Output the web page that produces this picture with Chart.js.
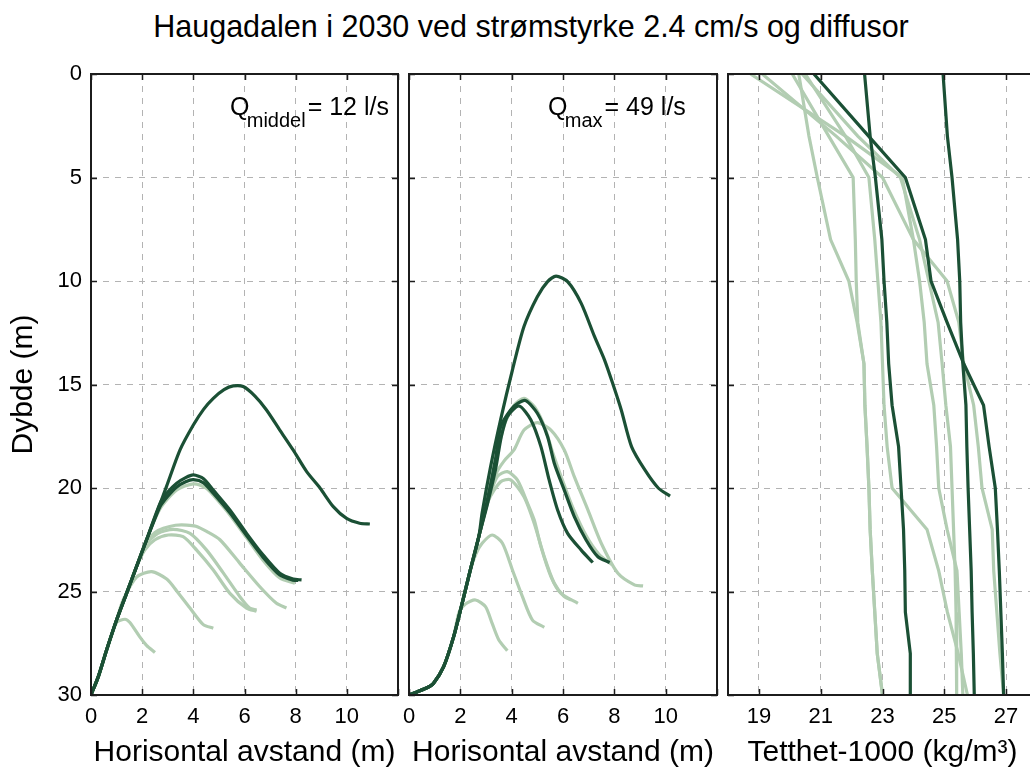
<!DOCTYPE html>
<html>
<head>
<meta charset="utf-8">
<script src="https://cdn.jsdelivr.net/npm/chart.js@4.4.1/dist/chart.umd.min.js"></script>
<style>
  html, body { margin: 0; padding: 0; background: #fff; }
  #page { position: relative; width: 1030px; height: 778px; overflow: hidden; }
  #page canvas { position: absolute; left: 0; top: 0; }
  #title {
    position: absolute; left: 131px; top: 11px; width: 800px;
    font-family: 'Liberation Sans', Arial, sans-serif; font-size: 30.5px; line-height: 30px;
    text-align: center; color: #000; white-space: nowrap;
  }
</style>
</head>
<body>
<div id="page">
  <div id="title">Haugadalen i 2030 ved strømstyrke 2.4 cm/s og diffusor</div>
  <canvas id="c-middel" width="1060" height="778"></canvas>
  <canvas id="c-max" width="1060" height="778"></canvas>
  <canvas id="c-dens" width="1060" height="778"></canvas>
</div>

<script>
// ══════════════════════════════════════
//  Haugadalen 2030 — innlagring av avløp
// ══════════════════════════════════════

// ── Data: Q middel (12 l/s) — [horisontal avstand (m), dybde (m)] ──
const middelDark1 = [[0,30],[0.29,29.1],[0.61,27.83],[1.0,26.38],[1.39,25.09],[1.78,23.8],[2.17,22.51],[2.57,21.2],[2.96,19.9],[3.48,18.16],[4.0,16.96],[4.4,16.2],[4.78,15.67],[5.2,15.25],[5.56,15.07],[5.95,15.1],[6.4,15.55],[6.86,16.23],[7.38,17.2],[7.9,18.16],[8.43,19.21],[8.95,20.0],[9.47,20.9],[9.99,21.47],[10.5,21.7],[10.9,21.74]];
const middelDark2 = [[0,30],[0.29,29.1],[0.61,27.83],[1.0,26.38],[1.39,25.09],[1.78,23.8],[2.17,22.51],[2.7,20.74],[3.0,20.2],[3.35,19.77],[3.7,19.5],[4.0,19.37],[4.4,19.55],[4.78,20.1],[5.43,21.06],[6.08,22.19],[6.73,23.24],[7.38,24.12],[7.9,24.4],[8.23,24.44]];
const middelDark3 = [[0,30],[0.29,29.1],[0.61,27.83],[1.0,26.38],[1.39,25.09],[1.78,23.8],[2.17,22.51],[2.7,20.9],[3.0,20.4],[3.35,19.95],[3.7,19.7],[4.0,19.6],[4.4,19.75],[4.78,20.25],[5.43,21.2],[6.08,22.3],[6.73,23.35],[7.38,24.2],[7.9,24.45],[8.1,24.47]];
const middelLight1 = [[0,30],[0.29,29.1],[0.61,27.83],[1.0,26.38],[1.39,25.09],[1.78,23.8],[2.17,22.51],[2.7,21.0],[3.35,20.1],[4.0,19.8],[4.5,20.0],[4.78,20.35],[5.43,21.3],[6.08,22.4],[6.73,23.5],[7.38,24.35],[7.97,24.6]];
const middelLight2 = [[0,30],[0.29,29.1],[0.61,27.83],[1.0,26.38],[1.39,25.09],[1.78,23.8],[2.17,22.6],[2.5,22.15],[2.83,21.95],[3.3,21.8],[3.74,21.79],[4.1,21.85],[4.52,22.1],[5.04,22.5],[5.82,23.64],[6.6,24.77],[7.25,25.57],[7.64,25.8]];
const middelLight3 = [[0,30],[0.29,29.1],[0.61,27.83],[1.0,26.38],[1.39,25.09],[1.78,23.8],[2.1,22.8],[2.6,22.2],[3.21,22.0],[3.87,22.19],[4.52,23.0],[5.17,24.1],[5.82,25.25],[6.2,25.8],[6.47,25.9]];
const middelLight4 = [[0,30],[0.29,29.1],[0.61,27.83],[1.0,26.38],[1.39,25.09],[1.78,23.8],[2.1,23.0],[2.5,22.5],[3.02,22.27],[3.6,22.35],[4.13,23.0],[4.78,23.96],[5.43,25.09],[6.08,25.8],[6.47,25.95]];
const middelLight5 = [[0,30],[0.29,29.1],[0.61,27.83],[1.0,26.38],[1.26,25.4],[1.78,24.3],[2.37,24.04],[2.96,24.4],[3.35,24.97],[3.87,25.8],[4.39,26.6],[4.78,26.77]];
const middelLight6 = [[0,30],[0.29,29.1],[0.61,27.83],[1.0,26.5],[1.33,26.34],[1.52,26.5],[1.9,27.18],[2.17,27.6],[2.5,27.95]];

// ── Data: Q max (49 l/s) ──
const maxDark1 = [[0,30],[0.31,29.85],[0.7,29.65],[0.95,29.44],[1.35,28.63],[1.74,27.18],[2.07,25.57],[2.39,23.96],[2.72,22.35],[2.85,21.2],[3.18,18.97],[3.57,16.7],[4.03,14.3],[4.48,12.2],[5.0,10.76],[5.4,10.03],[5.73,9.76],[6.18,10.03],[6.71,11.08],[7.23,12.69],[7.62,13.82],[7.95,15.0],[8.27,16.23],[8.67,18.0],[9.19,19.13],[9.71,20.0],[10.17,20.39]];
const maxDark2 = [[0,30],[0.31,29.85],[0.7,29.65],[0.95,29.44],[1.35,28.63],[1.74,27.18],[2.07,25.57],[2.39,23.96],[2.72,22.35],[3.05,20.6],[3.37,18.6],[3.57,17.04],[3.96,16.23],[4.25,15.9],[4.55,15.78],[5.0,16.39],[5.4,17.52],[5.66,18.8],[6.05,20.1],[6.44,21.38],[6.9,22.51],[7.36,23.32],[7.82,23.6]];
const maxDark3 = [[0,30],[0.31,29.85],[0.7,29.65],[0.95,29.44],[1.35,28.63],[1.74,27.18],[2.07,25.57],[2.39,23.96],[2.72,22.35],[3.05,20.8],[3.37,19.1],[3.6,17.5],[3.83,16.55],[4.29,16.04],[4.75,16.71],[5.14,18.0],[5.46,19.61],[5.79,21.06],[6.18,22.19],[6.71,23.0],[7.16,23.6]];
const maxLight1 = [[0,30],[0.31,29.85],[0.7,29.65],[0.95,29.44],[1.35,28.63],[1.74,27.18],[2.07,25.57],[2.39,23.96],[2.72,22.35],[3.05,20.5],[3.37,18.7],[3.7,17.0],[4.1,16.0],[4.48,15.67],[4.9,16.1],[5.3,17.1],[5.6,18.3],[6.0,19.7],[6.4,21.0],[6.9,22.3],[7.4,23.2],[7.9,23.7]];
const maxLight2 = [[0,30],[0.31,29.85],[0.7,29.65],[0.95,29.44],[1.35,28.63],[1.74,27.18],[2.07,25.57],[2.39,23.96],[2.72,22.35],[3.05,20.74],[3.4,19.3],[3.7,18.7],[4.09,18.16],[4.48,17.2],[5.0,16.84],[5.53,17.2],[6.05,18.16],[6.44,19.45],[6.97,21.06],[7.49,22.67],[8.14,24.12],[8.8,24.69],[9.12,24.73]];
const maxLight3 = [[0,30],[0.31,29.85],[0.7,29.65],[0.95,29.44],[1.35,28.63],[1.74,27.18],[2.07,25.57],[2.39,23.96],[2.72,22.35],[3.05,20.74],[3.44,19.45],[3.83,19.21],[4.22,19.61],[4.62,20.74],[4.88,21.55],[5.14,22.83],[5.53,24.28],[5.92,25.09],[6.58,25.57]];
const maxLight4 = [[0,30],[0.31,29.85],[0.7,29.65],[0.95,29.44],[1.35,28.63],[1.74,27.18],[2.07,25.57],[2.39,23.96],[2.72,22.35],[3.1,20.6],[3.57,19.7],[3.96,19.61],[4.48,20.42],[4.88,21.71],[5.27,23.32],[5.66,24.6],[6.05,25.25],[6.31,25.41]];
const maxLight5 = [[0,30],[0.31,29.85],[0.7,29.65],[0.95,29.44],[1.35,28.63],[1.74,27.18],[2.07,25.57],[2.39,23.96],[2.6,23.2],[2.85,22.67],[3.24,22.27],[3.64,22.67],[4.03,23.96],[4.42,25.25],[4.81,26.38],[5.27,26.73]];
const maxLight6 = [[0,30],[0.31,29.85],[0.7,29.65],[0.95,29.44],[1.35,28.63],[1.74,27.18],[1.95,26.0],[2.2,25.6],[2.59,25.41],[2.98,25.73],[3.24,26.54],[3.5,27.34],[3.83,27.86]];

// ── Data: tetthetsprofiler (sigma-t) ──
const densDepths = [0, 3, 5, 8, 10, 12, 14, 16, 18, 20, 22, 24, 26, 28, 30];
const densDark1  = [22.42, 22.6, 22.77, 22.98, 23.05, 23.14, 23.2, 23.31, 23.52, 23.6, 23.68, 23.72, 23.74, 23.9, 23.9];
const densDark2  = [24.96, 25.1, 25.25, 25.43, 25.5, 25.53, 25.6, 25.7, 25.73, 25.77, 25.82, 25.87, 25.9, 25.94, 25.97];
const densDark3  = [20.78, 22.55, 23.74, 24.39, 24.57, 25.09, 25.63, 26.27, 26.45, 26.65, 26.72, 26.78, 26.83, 26.88, 26.92];
const densLight1 = [20.29, 20.62, 20.89, 21.32, 21.91, 22.18, 22.4, 22.43, 22.5, 22.56, 22.6, 22.67, 22.75, 22.83, 23.0];
const densLight2 = [20.08, 21.26, 22.05, 22.12, 22.15, 22.2, 22.4, 22.43, 22.5, 22.56, 22.6, 22.67, 22.75, 22.83, 23.0];
const densLight3 = [20.5, 21.8, 22.56, 22.75, 22.85, 22.95, 23.0, 23.05, 23.15, 23.31, 24.44, 24.82, 25.1, 25.45, 25.75];
const densLight4 = [18.73, 21.8, 23.64, 24.0, 24.2, 24.35, 24.44, 24.66, 24.75, 24.82, 25.09, 25.41, 25.48, 25.55, 25.6];
const densLight5 = [19.11, 21.5, 23.0, 24.0, 25.09, 25.47, 25.63, 25.95, 26.1, 26.22, 26.55, 26.6, 26.7, 26.8, 26.92];
const densLight6 = [20.4, 22.2, 23.58, 24.2, 24.5, 24.8, 24.93, 25.05, 25.2, 25.25, 25.3, 25.35, 25.38, 25.4, 25.4];

// ── Akser ──
const depthTicks = [0, 5, 10, 15, 20, 25, 30];
const distTicks  = [0, 2, 4, 6, 8, 10, 12];
const densTicks  = [19, 21, 23, 25, 27];

// ── Stil ──
const FONT = "'Liberation Sans', Arial, sans-serif";
const DARK = '#1b5035';
const LIGHT = '#b2cdb2';
const TICK = 6;
const LW = 3.2;

function curve(pts, color) {
  return { data: pts.map(([x, z]) => ({ x, y: z })), borderColor: color, borderWidth: LW, pointRadius: 0, showLine: true, fill: false, tension: 0.25 };
}
function profile(vals, color) {
  return { data: vals.map((v, i) => ({ x: v, y: densDepths[i] })), borderColor: color, borderWidth: LW, pointRadius: 0, showLine: true, fill: false, tension: 0 };
}

// ── Plugins: ramme med innvendige tick-merker, Q-tekst ──
const frame = {
  id: 'frame',
  afterDraw(chart) {
    const { ctx, chartArea: a, scales: { x, y } } = chart;
    ctx.save();
    ctx.strokeStyle = '#1c1c1c';
    ctx.lineWidth = 2;
    ctx.strokeRect(a.left, a.top, a.right - a.left, a.bottom - a.top);
    ctx.lineWidth = 1.5;
    ctx.beginPath();
    x.ticks.forEach(t => {
      const px = Math.round(x.getPixelForValue(t.value)) + 0.5;
      ctx.moveTo(px, a.bottom); ctx.lineTo(px, a.bottom - TICK);
      ctx.moveTo(px, a.top); ctx.lineTo(px, a.top + TICK);
    });
    y.ticks.forEach(t => {
      const py = Math.round(y.getPixelForValue(t.value)) + 0.5;
      ctx.moveTo(a.left, py); ctx.lineTo(a.left + TICK, py);
      ctx.moveTo(a.right, py); ctx.lineTo(a.right - TICK, py);
    });
    ctx.stroke();
    ctx.restore();
  }
};

const qLabel = {
  id: 'qLabel',
  afterDraw(chart, args, opts) {
    if (!opts || !opts.sub) return;
    const ctx = chart.ctx;
    ctx.save();
    ctx.fillStyle = '#000';
    ctx.textBaseline = 'alphabetic';
    ctx.textAlign = 'left';
    let x = opts.x;
    ctx.font = `25px ${FONT}`;
    ctx.fillText('Q', x, 115);
    x += ctx.measureText('Q').width - 2.7;
    ctx.font = `20px ${FONT}`;
    ctx.fillText(opts.sub, x, 127);
    x += ctx.measureText(opts.sub).width + 2;
    ctx.font = `25px ${FONT}`;
    ctx.fillText(opts.text, x, 115);
    ctx.restore();
  }
};

// ── Panel ──
function makePanel(id, p) {
  const canvasW = 1060;
  return new Chart(document.getElementById(id), {
    type: 'scatter',
    data: { datasets: p.datasets },
    plugins: [frame, qLabel],
    options: {
      responsive: false, animation: false, devicePixelRatio: 1, events: [],
      layout: { autoPadding: false, padding: { left: p.left - p.yWidth, right: canvasW - p.right, top: 74, bottom: 0 } },
      plugins: { legend: { display: false }, tooltip: { enabled: false }, qLabel: p.q || {} },
      scales: {
        x: {
          type: 'linear', position: 'bottom', min: p.xMin, max: p.xMax,
          afterBuildTicks: s => { s.ticks = p.xTicks.map(v => ({ value: v })); },
          afterFit: s => { s.height = 83; },
          grid: { color: '#b3b3b3', lineWidth: 1, drawTicks: false },
          border: { display: false, dash: [6, 6] },
          ticks: { color: '#000', font: { family: FONT, size: 22 }, padding: 9, maxRotation: 0,
                   callback: v => (v === p.xMax && p.xMax === 12) ? '' : v },
          title: { display: true, text: p.xTitle, color: '#000', font: { family: FONT, size: 30 }, padding: { top: 0, bottom: 7 } }
        },
        y: {
          type: 'linear', reverse: true, min: 0, max: 30,
          afterBuildTicks: s => { s.ticks = depthTicks.map(v => ({ value: v })); },
          afterFit: s => { s.width = p.yWidth; },
          grid: { color: '#b3b3b3', lineWidth: 1, drawTicks: false },
          border: { display: false, dash: [6, 6] },
          ticks: { display: p.yWidth > 0, color: '#000', font: { family: FONT, size: 22 }, padding: 9 },
          title: { display: p.yWidth > 0, text: 'Dybde (m)', color: '#000', font: { family: FONT, size: 30 }, padding: { top: 6, bottom: 0 } }
        }
      }
    }
  });
}

document.addEventListener('DOMContentLoaded', () => {

  makePanel('c-middel', {
    left: 91, right: 398, yWidth: 91, xMin: 0, xMax: 12, xTicks: distTicks,
    xTitle: 'Horisontal avstand (m)',
    q: { x: 230, sub: 'middel', text: '= 12 l/s' },
    datasets: [
      curve(middelDark1, DARK), curve(middelDark2, DARK), curve(middelDark3, DARK),
      curve(middelLight1, LIGHT), curve(middelLight2, LIGHT), curve(middelLight3, LIGHT),
      curve(middelLight4, LIGHT), curve(middelLight5, LIGHT), curve(middelLight6, LIGHT)
    ]
  });

  makePanel('c-max', {
    left: 409, right: 717, yWidth: 0, xMin: 0, xMax: 12, xTicks: distTicks,
    xTitle: 'Horisontal avstand (m)',
    q: { x: 548, sub: 'max', text: '= 49 l/s' },
    datasets: [
      curve(maxDark1, DARK), curve(maxDark2, DARK), curve(maxDark3, DARK),
      curve(maxLight1, LIGHT), curve(maxLight2, LIGHT), curve(maxLight3, LIGHT),
      curve(maxLight4, LIGHT), curve(maxLight5, LIGHT), curve(maxLight6, LIGHT)
    ]
  });

  makePanel('c-dens', {
    left: 728, right: 1037, yWidth: 0, xMin: 18, xMax: 28, xTicks: densTicks,
    xTitle: 'Tetthet-1000 (kg/m³)',
    datasets: [
      profile(densDark1, DARK), profile(densDark2, DARK), profile(densDark3, DARK),
      profile(densLight1, LIGHT), profile(densLight2, LIGHT), profile(densLight3, LIGHT),
      profile(densLight4, LIGHT), profile(densLight5, LIGHT), profile(densLight6, LIGHT)
    ]
  });

});
</script>
</body>
</html>
